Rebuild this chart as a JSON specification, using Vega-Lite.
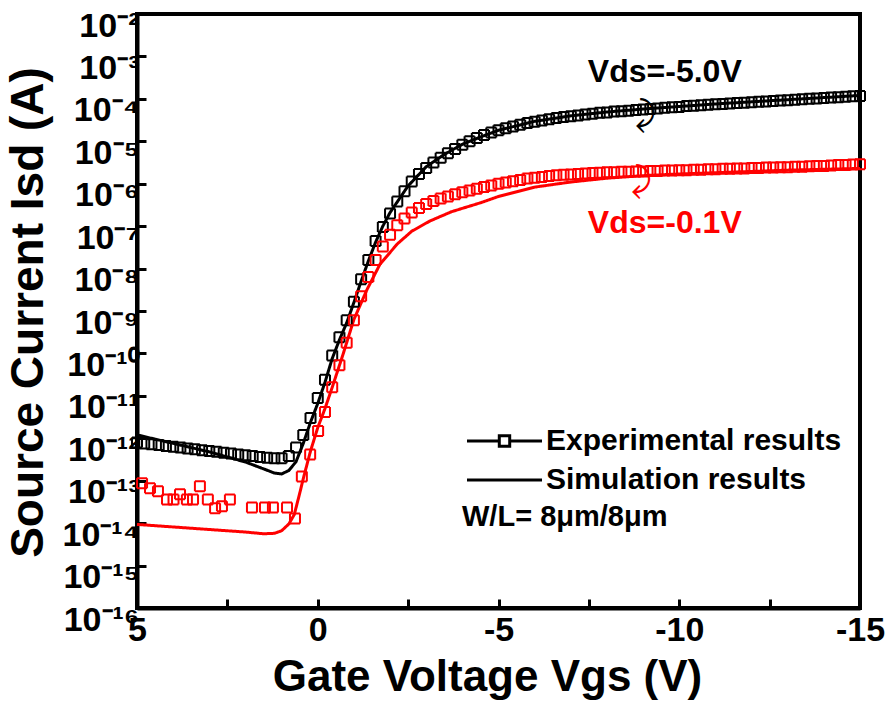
{
  "$schema": "https://vega.github.io/schema/vega-lite/v6.json",
  "width": 723,
  "height": 594,
  "autosize": {"type": "none"},
  "padding": {"left": 137, "top": 14, "right": 29, "bottom": 105},
  "background": "white",
  "datasets": {
    "exp": [
      {"Vds":"-5.0V","V":5.0,"logI":-12.10},{"Vds":"-5.0V","V":4.8,"logI":-12.12},{"Vds":"-5.0V","V":4.6,"logI":-12.14},{"Vds":"-5.0V","V":4.4,"logI":-12.16},{"Vds":"-5.0V","V":4.2,"logI":-12.18},{"Vds":"-5.0V","V":4.0,"logI":-12.20},{"Vds":"-5.0V","V":3.8,"logI":-12.22},{"Vds":"-5.0V","V":3.6,"logI":-12.24},{"Vds":"-5.0V","V":3.4,"logI":-12.26},{"Vds":"-5.0V","V":3.2,"logI":-12.28},
      {"Vds":"-5.0V","V":3.0,"logI":-12.30},{"Vds":"-5.0V","V":2.8,"logI":-12.32},{"Vds":"-5.0V","V":2.6,"logI":-12.34},{"Vds":"-5.0V","V":2.4,"logI":-12.36},{"Vds":"-5.0V","V":2.2,"logI":-12.38},{"Vds":"-5.0V","V":2.0,"logI":-12.40},{"Vds":"-5.0V","V":1.8,"logI":-12.42},{"Vds":"-5.0V","V":1.6,"logI":-12.44},{"Vds":"-5.0V","V":1.4,"logI":-12.46},{"Vds":"-5.0V","V":1.2,"logI":-12.47},
      {"Vds":"-5.0V","V":1.0,"logI":-12.47},{"Vds":"-5.0V","V":0.8,"logI":-12.42},{"Vds":"-5.0V","V":0.6,"logI":-12.22},{"Vds":"-5.0V","V":0.4,"logI":-11.92},{"Vds":"-5.0V","V":0.2,"logI":-11.52},{"Vds":"-5.0V","V":0.0,"logI":-11.05},{"Vds":"-5.0V","V":-0.2,"logI":-10.62},{"Vds":"-5.0V","V":-0.4,"logI":-10.05},{"Vds":"-5.0V","V":-0.6,"logI":-9.62},{"Vds":"-5.0V","V":-0.8,"logI":-9.22},
      {"Vds":"-5.0V","V":-1.0,"logI":-8.78},{"Vds":"-5.0V","V":-1.2,"logI":-8.25},{"Vds":"-5.0V","V":-1.4,"logI":-7.80},{"Vds":"-5.0V","V":-1.6,"logI":-7.35},{"Vds":"-5.0V","V":-1.8,"logI":-7.02},{"Vds":"-5.0V","V":-2.0,"logI":-6.70},{"Vds":"-5.0V","V":-2.2,"logI":-6.42},{"Vds":"-5.0V","V":-2.4,"logI":-6.18},{"Vds":"-5.0V","V":-2.6,"logI":-5.95},{"Vds":"-5.0V","V":-2.8,"logI":-5.77},
      {"Vds":"-5.0V","V":-3.0,"logI":-5.63},{"Vds":"-5.0V","V":-3.2,"logI":-5.50},{"Vds":"-5.0V","V":-3.4,"logI":-5.39},{"Vds":"-5.0V","V":-3.6,"logI":-5.28},{"Vds":"-5.0V","V":-3.8,"logI":-5.18},{"Vds":"-5.0V","V":-4.0,"logI":-5.08},{"Vds":"-5.0V","V":-4.2,"logI":-5.00},{"Vds":"-5.0V","V":-4.4,"logI":-4.92},{"Vds":"-5.0V","V":-4.6,"logI":-4.85},{"Vds":"-5.0V","V":-4.8,"logI":-4.79},
      {"Vds":"-5.0V","V":-5.0,"logI":-4.74},{"Vds":"-5.0V","V":-5.2,"logI":-4.69},{"Vds":"-5.0V","V":-5.4,"logI":-4.65},{"Vds":"-5.0V","V":-5.6,"logI":-4.61},{"Vds":"-5.0V","V":-5.8,"logI":-4.57},{"Vds":"-5.0V","V":-6.0,"logI":-4.54},{"Vds":"-5.0V","V":-6.2,"logI":-4.51},{"Vds":"-5.0V","V":-6.4,"logI":-4.48},{"Vds":"-5.0V","V":-6.6,"logI":-4.45},{"Vds":"-5.0V","V":-6.8,"logI":-4.43},
      {"Vds":"-5.0V","V":-7.0,"logI":-4.41},{"Vds":"-5.0V","V":-7.2,"logI":-4.39},{"Vds":"-5.0V","V":-7.4,"logI":-4.37},{"Vds":"-5.0V","V":-7.6,"logI":-4.35},{"Vds":"-5.0V","V":-7.8,"logI":-4.33},{"Vds":"-5.0V","V":-8.0,"logI":-4.32},{"Vds":"-5.0V","V":-8.2,"logI":-4.30},{"Vds":"-5.0V","V":-8.4,"logI":-4.29},{"Vds":"-5.0V","V":-8.6,"logI":-4.28},{"Vds":"-5.0V","V":-8.8,"logI":-4.26},
      {"Vds":"-5.0V","V":-9.0,"logI":-4.25},{"Vds":"-5.0V","V":-9.2,"logI":-4.24},{"Vds":"-5.0V","V":-9.4,"logI":-4.23},{"Vds":"-5.0V","V":-9.6,"logI":-4.21},{"Vds":"-5.0V","V":-9.8,"logI":-4.20},{"Vds":"-5.0V","V":-10.0,"logI":-4.19},{"Vds":"-5.0V","V":-10.2,"logI":-4.17},{"Vds":"-5.0V","V":-10.4,"logI":-4.16},{"Vds":"-5.0V","V":-10.6,"logI":-4.15},{"Vds":"-5.0V","V":-10.8,"logI":-4.14},
      {"Vds":"-5.0V","V":-11.0,"logI":-4.13},{"Vds":"-5.0V","V":-11.2,"logI":-4.12},{"Vds":"-5.0V","V":-11.4,"logI":-4.11},{"Vds":"-5.0V","V":-11.6,"logI":-4.10},{"Vds":"-5.0V","V":-11.8,"logI":-4.09},{"Vds":"-5.0V","V":-12.0,"logI":-4.08},{"Vds":"-5.0V","V":-12.2,"logI":-4.07},{"Vds":"-5.0V","V":-12.4,"logI":-4.06},{"Vds":"-5.0V","V":-12.6,"logI":-4.05},{"Vds":"-5.0V","V":-12.8,"logI":-4.04},
      {"Vds":"-5.0V","V":-13.0,"logI":-4.03},{"Vds":"-5.0V","V":-13.2,"logI":-4.02},{"Vds":"-5.0V","V":-13.4,"logI":-4.01},{"Vds":"-5.0V","V":-13.6,"logI":-4.00},{"Vds":"-5.0V","V":-13.8,"logI":-3.99},{"Vds":"-5.0V","V":-14.0,"logI":-3.98},{"Vds":"-5.0V","V":-14.2,"logI":-3.97},{"Vds":"-5.0V","V":-14.4,"logI":-3.96},{"Vds":"-5.0V","V":-14.6,"logI":-3.95},{"Vds":"-5.0V","V":-14.8,"logI":-3.94},{"Vds":"-5.0V","V":-15.0,"logI":-3.93},
      {"Vds":"-0.1V","V":4.86,"logI":-13.06},{"Vds":"-0.1V","V":4.64,"logI":-13.18},{"Vds":"-0.1V","V":4.42,"logI":-13.25},{"Vds":"-0.1V","V":4.17,"logI":-13.44},{"Vds":"-0.1V","V":3.99,"logI":-13.44},{"Vds":"-0.1V","V":3.81,"logI":-13.32},{"Vds":"-0.1V","V":3.62,"logI":-13.44},{"Vds":"-0.1V","V":3.45,"logI":-13.44},{"Vds":"-0.1V","V":3.26,"logI":-13.13},{"Vds":"-0.1V","V":3.04,"logI":-13.44},
      {"Vds":"-0.1V","V":2.84,"logI":-13.65},{"Vds":"-0.1V","V":2.65,"logI":-13.60},{"Vds":"-0.1V","V":2.43,"logI":-13.44},{"Vds":"-0.1V","V":1.82,"logI":-13.63},{"Vds":"-0.1V","V":1.46,"logI":-13.63},{"Vds":"-0.1V","V":1.24,"logI":-13.63},{"Vds":"-0.1V","V":0.85,"logI":-13.63},{"Vds":"-0.1V","V":0.63,"logI":-13.89},{"Vds":"-0.1V","V":0.44,"logI":-12.90},{"Vds":"-0.1V","V":0.21,"logI":-12.38},
      {"Vds":"-0.1V","V":-0.01,"logI":-11.83},{"Vds":"-0.1V","V":-0.2,"logI":-11.38},{"Vds":"-0.1V","V":-0.4,"logI":-10.80},{"Vds":"-0.1V","V":-0.6,"logI":-10.28},{"Vds":"-0.1V","V":-0.8,"logI":-9.75},{"Vds":"-0.1V","V":-1.0,"logI":-9.22},{"Vds":"-0.1V","V":-1.2,"logI":-8.65},{"Vds":"-0.1V","V":-1.4,"logI":-8.20},{"Vds":"-0.1V","V":-1.6,"logI":-7.80},{"Vds":"-0.1V","V":-1.8,"logI":-7.48},
      {"Vds":"-0.1V","V":-2.0,"logI":-7.20},{"Vds":"-0.1V","V":-2.2,"logI":-6.98},{"Vds":"-0.1V","V":-2.4,"logI":-6.82},{"Vds":"-0.1V","V":-2.6,"logI":-6.68},{"Vds":"-0.1V","V":-2.8,"logI":-6.57},{"Vds":"-0.1V","V":-3.0,"logI":-6.48},{"Vds":"-0.1V","V":-3.2,"logI":-6.41},{"Vds":"-0.1V","V":-3.4,"logI":-6.35},{"Vds":"-0.1V","V":-3.6,"logI":-6.30},{"Vds":"-0.1V","V":-3.8,"logI":-6.25},
      {"Vds":"-0.1V","V":-4.0,"logI":-6.20},{"Vds":"-0.1V","V":-4.2,"logI":-6.16},{"Vds":"-0.1V","V":-4.4,"logI":-6.12},{"Vds":"-0.1V","V":-4.6,"logI":-6.08},{"Vds":"-0.1V","V":-4.8,"logI":-6.04},{"Vds":"-0.1V","V":-5.0,"logI":-6.00},{"Vds":"-0.1V","V":-5.2,"logI":-5.97},{"Vds":"-0.1V","V":-5.4,"logI":-5.94},{"Vds":"-0.1V","V":-5.6,"logI":-5.91},{"Vds":"-0.1V","V":-5.8,"logI":-5.88},
      {"Vds":"-0.1V","V":-6.0,"logI":-5.86},{"Vds":"-0.1V","V":-6.2,"logI":-5.84},{"Vds":"-0.1V","V":-6.4,"logI":-5.82},{"Vds":"-0.1V","V":-6.6,"logI":-5.80},{"Vds":"-0.1V","V":-6.8,"logI":-5.79},{"Vds":"-0.1V","V":-7.0,"logI":-5.78},{"Vds":"-0.1V","V":-7.2,"logI":-5.77},{"Vds":"-0.1V","V":-7.4,"logI":-5.76},{"Vds":"-0.1V","V":-7.6,"logI":-5.75},{"Vds":"-0.1V","V":-7.8,"logI":-5.74},
      {"Vds":"-0.1V","V":-8.0,"logI":-5.73},{"Vds":"-0.1V","V":-8.2,"logI":-5.73},{"Vds":"-0.1V","V":-8.4,"logI":-5.72},{"Vds":"-0.1V","V":-8.6,"logI":-5.72},{"Vds":"-0.1V","V":-8.8,"logI":-5.71},{"Vds":"-0.1V","V":-9.0,"logI":-5.71},{"Vds":"-0.1V","V":-9.2,"logI":-5.70},{"Vds":"-0.1V","V":-9.4,"logI":-5.70},{"Vds":"-0.1V","V":-9.6,"logI":-5.69},{"Vds":"-0.1V","V":-9.8,"logI":-5.69},
      {"Vds":"-0.1V","V":-10.0,"logI":-5.68},{"Vds":"-0.1V","V":-10.2,"logI":-5.68},{"Vds":"-0.1V","V":-10.4,"logI":-5.67},{"Vds":"-0.1V","V":-10.6,"logI":-5.67},{"Vds":"-0.1V","V":-10.8,"logI":-5.66},{"Vds":"-0.1V","V":-11.0,"logI":-5.66},{"Vds":"-0.1V","V":-11.2,"logI":-5.65},{"Vds":"-0.1V","V":-11.4,"logI":-5.65},{"Vds":"-0.1V","V":-11.6,"logI":-5.64},{"Vds":"-0.1V","V":-11.8,"logI":-5.64},
      {"Vds":"-0.1V","V":-12.0,"logI":-5.63},{"Vds":"-0.1V","V":-12.2,"logI":-5.63},{"Vds":"-0.1V","V":-12.4,"logI":-5.62},{"Vds":"-0.1V","V":-12.6,"logI":-5.62},{"Vds":"-0.1V","V":-12.8,"logI":-5.61},{"Vds":"-0.1V","V":-13.0,"logI":-5.61},{"Vds":"-0.1V","V":-13.2,"logI":-5.60},{"Vds":"-0.1V","V":-13.4,"logI":-5.60},{"Vds":"-0.1V","V":-13.6,"logI":-5.59},{"Vds":"-0.1V","V":-13.8,"logI":-5.58},
      {"Vds":"-0.1V","V":-14.0,"logI":-5.58},{"Vds":"-0.1V","V":-14.2,"logI":-5.57},{"Vds":"-0.1V","V":-14.4,"logI":-5.56},{"Vds":"-0.1V","V":-14.6,"logI":-5.56},{"Vds":"-0.1V","V":-14.8,"logI":-5.55},{"Vds":"-0.1V","V":-15.0,"logI":-5.54}
    ],
    "sim": [
      {"Vds":"-5.0V","V":5.0,"logI":-11.92},{"Vds":"-5.0V","V":4.5,"logI":-12.02},{"Vds":"-5.0V","V":4.0,"logI":-12.12},{"Vds":"-5.0V","V":3.5,"logI":-12.22},{"Vds":"-5.0V","V":3.0,"logI":-12.32},{"Vds":"-5.0V","V":2.5,"logI":-12.44},{"Vds":"-5.0V","V":2.0,"logI":-12.56},{"Vds":"-5.0V","V":1.5,"logI":-12.72},{"Vds":"-5.0V","V":1.2,"logI":-12.82},{"Vds":"-5.0V","V":1.0,"logI":-12.84},
      {"Vds":"-5.0V","V":0.8,"logI":-12.76},{"Vds":"-5.0V","V":0.6,"logI":-12.55},{"Vds":"-5.0V","V":0.4,"logI":-12.12},{"Vds":"-5.0V","V":0.2,"logI":-11.62},{"Vds":"-5.0V","V":0.0,"logI":-11.18},{"Vds":"-5.0V","V":-0.2,"logI":-10.68},{"Vds":"-5.0V","V":-0.4,"logI":-10.12},{"Vds":"-5.0V","V":-0.6,"logI":-9.68},{"Vds":"-5.0V","V":-0.8,"logI":-9.28},{"Vds":"-5.0V","V":-1.0,"logI":-8.80},
      {"Vds":"-5.0V","V":-1.2,"logI":-8.30},{"Vds":"-5.0V","V":-1.4,"logI":-7.82},{"Vds":"-5.0V","V":-1.6,"logI":-7.38},{"Vds":"-5.0V","V":-1.8,"logI":-7.00},{"Vds":"-5.0V","V":-2.0,"logI":-6.68},{"Vds":"-5.0V","V":-2.5,"logI":-6.05},{"Vds":"-5.0V","V":-3.0,"logI":-5.60},{"Vds":"-5.0V","V":-3.5,"logI":-5.31},{"Vds":"-5.0V","V":-4.0,"logI":-5.07},{"Vds":"-5.0V","V":-4.5,"logI":-4.90},
      {"Vds":"-5.0V","V":-5.0,"logI":-4.74},{"Vds":"-5.0V","V":-6.0,"logI":-4.53},{"Vds":"-5.0V","V":-7.0,"logI":-4.40},{"Vds":"-5.0V","V":-8.0,"logI":-4.31},{"Vds":"-5.0V","V":-9.0,"logI":-4.24},{"Vds":"-5.0V","V":-10.0,"logI":-4.18},{"Vds":"-5.0V","V":-11.0,"logI":-4.12},{"Vds":"-5.0V","V":-12.0,"logI":-4.07},{"Vds":"-5.0V","V":-13.0,"logI":-4.02},{"Vds":"-5.0V","V":-14.0,"logI":-3.97},{"Vds":"-5.0V","V":-15.0,"logI":-3.92},
      {"Vds":"-0.1V","V":5.0,"logI":-14.03},{"Vds":"-0.1V","V":4.0,"logI":-14.09},{"Vds":"-0.1V","V":3.0,"logI":-14.15},{"Vds":"-0.1V","V":2.0,"logI":-14.21},{"Vds":"-0.1V","V":1.5,"logI":-14.25},{"Vds":"-0.1V","V":1.2,"logI":-14.24},{"Vds":"-0.1V","V":1.0,"logI":-14.18},{"Vds":"-0.1V","V":0.8,"logI":-14.02},{"Vds":"-0.1V","V":0.65,"logI":-13.80},{"Vds":"-0.1V","V":0.5,"logI":-13.30},
      {"Vds":"-0.1V","V":0.4,"logI":-12.95},{"Vds":"-0.1V","V":0.2,"logI":-12.30},{"Vds":"-0.1V","V":0.0,"logI":-11.75},{"Vds":"-0.1V","V":-0.2,"logI":-11.30},{"Vds":"-0.1V","V":-0.4,"logI":-10.80},{"Vds":"-0.1V","V":-0.7,"logI":-10.02},{"Vds":"-0.1V","V":-1.0,"logI":-9.20},{"Vds":"-0.1V","V":-1.36,"logI":-8.50},{"Vds":"-0.1V","V":-1.72,"logI":-7.90},{"Vds":"-0.1V","V":-2.2,"logI":-7.42},
      {"Vds":"-0.1V","V":-2.6,"logI":-7.12},{"Vds":"-0.1V","V":-3.1,"logI":-6.88},{"Vds":"-0.1V","V":-3.7,"logI":-6.66},{"Vds":"-0.1V","V":-4.5,"logI":-6.45},{"Vds":"-0.1V","V":-5.0,"logI":-6.30},{"Vds":"-0.1V","V":-6.0,"logI":-6.08},{"Vds":"-0.1V","V":-7.0,"logI":-5.96},{"Vds":"-0.1V","V":-8.0,"logI":-5.87},{"Vds":"-0.1V","V":-9.0,"logI":-5.81},{"Vds":"-0.1V","V":-10.0,"logI":-5.77},
      {"Vds":"-0.1V","V":-11.0,"logI":-5.74},{"Vds":"-0.1V","V":-12.0,"logI":-5.71},{"Vds":"-0.1V","V":-13.0,"logI":-5.68},{"Vds":"-0.1V","V":-14.0,"logI":-5.66},{"Vds":"-0.1V","V":-15.0,"logI":-5.64}
    ],
    "notes": [
      {"Vds":"-5.0V","V":-9.6,"logI":-3.36,"text":"Vds=-5.0V"},
      {"Vds":"-0.1V","V":-9.6,"logI":-6.92,"text":"Vds=-0.1V"}
    ],
    "arrows": [
      {"Vds":"-5.0V","V":-9.05,"logI":-4.38,"text":"⤸"},
      {"Vds":"-0.1V","V":-8.95,"logI":-5.94,"text":"⤸"}
    ]
  },
  "encoding": {
    "x": {
      "field": "V", "type": "quantitative",
      "scale": {"domain": [5, -15], "nice": false, "zero": false},
      "axis": {
        "title": "Gate Voltage Vgs (V)",
        "values": [5, 2.5, 0, -2.5, -5, -7.5, -10, -12.5, -15],
        "labelExpr": "datum.value % 5 == 0 ? '' + datum.value : ''",
        "titleX": 350, "titleY": 82, "titleBaseline": "alphabetic", "titleAlign": "center",
        "labelFontSize": 34, "labelPadding": 14
      }
    },
    "y": {
      "field": "logI", "type": "quantitative",
      "scale": {"domain": [-16, -2], "nice": false, "zero": false},
      "axis": {
        "title": "Source Current Isd (A)",
        "values": [-16, -15, -14, -13, -12, -11, -10, -9, -8, -7, -6, -5, -4, -3, -2],
        "labelExpr": "['10⁻¹⁶','10⁻¹⁵','10⁻¹⁴','10⁻¹³','10⁻¹²','10⁻¹¹','10⁻¹⁰','10⁻⁹','10⁻⁸','10⁻⁷','10⁻⁶','10⁻⁵','10⁻⁴','10⁻³','10⁻²'][datum.value + 16]",
        "titleX": -109, "titleY": 298, "titleBaseline": "middle", "titleAlign": "center", "titleAngle": -90, "titleFontSize": 46,
        "labelFontSize": 34, "labelPadding": 7,
        "labelBaseline": "alphabetic", "labelOffset": 22
      }
    },
    "color": {
      "field": "Vds", "type": "nominal",
      "scale": {"domain": ["-5.0V", "-0.1V"], "range": ["#000000", "#ff0000"]},
      "legend": null
    }
  },
  "layer": [
    {
      "data": {"name": "sim"},
      "mark": {"type": "line", "strokeWidth": 3},
      "encoding": {
        "detail": {"field": "Vds"},
        "strokeDash": {
          "datum": "Simulation results",
          "type": "nominal",
          "scale": {"domain": ["Experimental results", "Simulation results"], "range": [[1, 0], [1, 0]]},
          "legend": {
            "orient": "none", "legendX": 325, "legendY": 412,
            "title": "W/L= 8μm/8μm", "titleOrient": "bottom", "titleAnchor": "start",
            "titleFontSize": 29, "titleFontWeight": "bold", "titleColor": "black", "titlePadding": 8, "titleLimit": 0,
            "labelFontSize": 30, "labelFontWeight": "bold", "labelColor": "black", "labelOffset": 54, "labelLimit": 0,
            "symbolSize": 400, "symbolStrokeWidth": 3, "symbolStrokeColor": "black", "symbolFillColor": "transparent",
            "rowPadding": 9, "padding": 0,
            "encode": {
              "symbols": {
                "update": {
                  "shape": {"signal": "datum.value === 'Experimental results' ? 'M-1,0H2.23M3.27,0H6.5M2.23,-0.52H3.27V0.52H2.23Z' : 'M-1,0H6.5'"},
                  "stroke": {"value": "black"},
                  "fill": {"value": "transparent"}
                }
              }
            }
          }
        }
      }
    },
    {
      "data": {"name": "exp"},
      "mark": {"type": "point", "shape": "square", "filled": false, "size": 100, "strokeWidth": 2, "opacity": 1},
      "encoding": {
        "strokeDash": {"datum": "Experimental results", "type": "nominal"}
      }
    },
    {
      "data": {"name": "notes"},
      "mark": {"type": "text", "fontSize": 32, "fontWeight": "bold", "font": "Liberation Sans", "align": "center", "baseline": "middle"},
      "encoding": {"text": {"field": "text"}}
    },
    {
      "data": {"name": "arrows"},
      "mark": {"type": "text", "fontSize": 34, "font": "DejaVu Sans", "align": "center", "baseline": "middle"},
      "encoding": {"text": {"field": "text"}}
    }
  ],
  "config": {
    "font": "Liberation Sans",
    "view": {"stroke": "black", "strokeWidth": 4},
    "axis": {
      "grid": false,
      "domainColor": "black", "domainWidth": 4,
      "tickColor": "black", "tickWidth": 3, "tickSize": -9,
      "labelColor": "black", "labelFontWeight": "bold", "labelFont": "Liberation Sans",
      "labelFlush": false, "labelOverlap": false,
      "titleColor": "black", "titleFontWeight": "bold", "titleFontSize": 44, "titleFont": "Liberation Sans"
    }
  }
}
